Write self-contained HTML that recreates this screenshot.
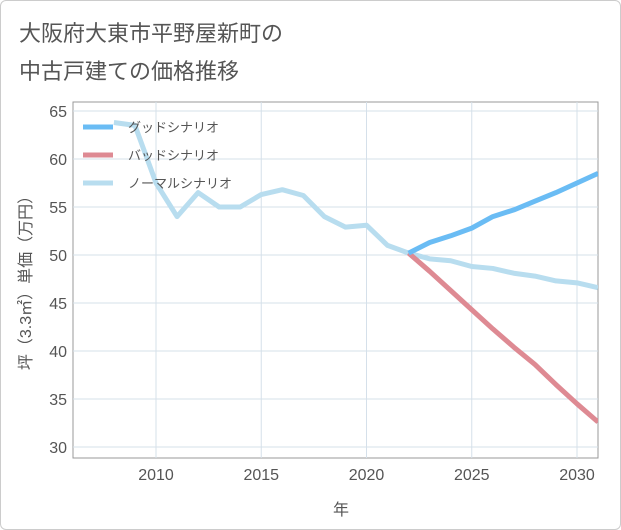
<!DOCTYPE html>
<html><head><meta charset="utf-8"><style>
body{margin:0;background:#fff;font-family:"Liberation Sans","Noto Sans CJK JP",sans-serif}
#wrap{position:relative;width:621px;height:530px;box-sizing:border-box;border:1px solid #ccc;border-radius:6px;overflow:hidden}
</style></head><body>
<div id="wrap">
<svg id="chart" width="621" height="530">
<text x="18" y="40" font-size="22" fill="#555" font-family="Liberation Sans,Noto Sans CJK JP,sans-serif">大阪府大東市平野屋新町の</text>
<text x="18" y="78" font-size="22" fill="#555" font-family="Liberation Sans,Noto Sans CJK JP,sans-serif">中古戸建ての価格推移</text>
<g id="grid"></g><g id="series"></g><g id="legend"></g>
<text x="340" y="514" font-size="16" fill="#555" text-anchor="middle" font-family="Liberation Sans,Noto Sans CJK JP,sans-serif">年</text>
<text transform="translate(30,278) rotate(-90)" font-size="16" fill="#555" text-anchor="middle" font-family="Liberation Sans,Noto Sans CJK JP,sans-serif">坪（3.3㎡）単価（万円）</text>
</svg>
</div>
<script>
const normalYears=[2008,2009,2010,2011,2012,2013,2014,2015,2016,2017,2018,2019,2020,2021,2022,2023,2024,2025,2026,2027,2028,2029,2030,2031];
const normalValues=[63.8,63.5,57.5,54,56.5,55,55,56.3,56.8,56.2,54,52.9,53.1,51,50.2,49.6,49.4,48.8,48.6,48.1,47.8,47.3,47.1,46.6];
const scenarioYears=[2022,2023,2024,2025,2026,2027,2028,2029,2030,2031];
const goodValues=[50.2,51.3,52,52.8,54,54.7,55.6,56.5,57.5,58.5];
const badValues=[50.2,48.3,46.3,44.3,42.3,40.4,38.6,36.5,34.5,32.6];
const xTicks=[2010,2015,2020,2025,2030];
const yTicks=[30,35,40,45,50,55,60,65];
const legendLabels=["グッドシナリオ","バッドシナリオ","ノーマルシナリオ"];
const NS="http://www.w3.org/2000/svg";
const L=72,R=597,T=101,B=457;
const x=v=>155+(v-2010)*21.05;
const y=v=>446-(v-30)*9.6;
function mk(tag,attrs,parent){const e=document.createElementNS(NS,tag);for(const k in attrs)e.setAttribute(k,attrs[k]);parent.appendChild(e);return e;}
const grid=document.getElementById('grid');
const fr=mk('rect',{x:L,y:T,width:R-L,height:B-T,fill:'none',stroke:'#999','stroke-width':1},grid);


yTicks.forEach(t=>{
const l=mk('line',{x1:L,x2:R,y1:y(t),y2:y(t),stroke:'#d5e0ea','stroke-width':1},grid);


const tx=mk('text',{x:L-6,y:y(t)+6,'text-anchor':'end','font-size':16,fill:'#555'},grid);tx.textContent=t;


});
xTicks.forEach(t=>{
const l=mk('line',{x1:x(t),x2:x(t),y1:T,y2:B,stroke:'#d5e0ea','stroke-width':1},grid);


const tx=mk('text',{x:x(t),y:B+22,'text-anchor':'middle','font-size':16,fill:'#555'},grid);tx.textContent=t;


});
const ser=document.getElementById('series');
function line(xs,vs,color,name){
const p=mk('polyline',{points:xs.map((a,i)=>x(a)+','+y(vs[i])).join(' '),fill:'none',stroke:color,'stroke-width':5,'stroke-linejoin':'round'},ser);


}
const cp=mk('clipPath',{id:'cp'},ser);mk('rect',{x:L,y:T,width:R-L,height:B-T},cp);ser.setAttribute('clip-path','url(#cp)');
line(normalYears,normalValues,'#b8ddef','normal-scenario-line');
line(scenarioYears,badValues,'#de8a93','bad-scenario-line');
line(scenarioYears,goodValues,'#6abcf4','good-scenario-line');
const lg=document.getElementById('legend');
const cols=['#6abcf4','#de8a93','#b8ddef'];
legendLabels.forEach((s,i)=>{
const yy=126+i*28;
const r=mk('rect',{x:82,y:yy-2.5,width:30,height:5,fill:cols[i]},lg);


const t=mk('text',{x:127,y:yy+5,'font-size':13,fill:'#555'},lg);t.textContent=s;


});
</script>
</body></html>
